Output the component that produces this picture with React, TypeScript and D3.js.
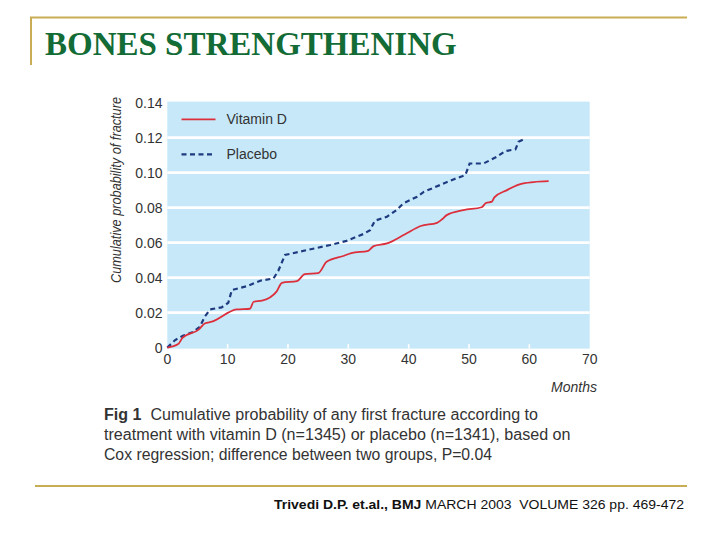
import React, { useEffect, useRef } from 'react';
import * as d3 from 'd3';

// cumulative fracture probability by month
const vitaminMonths = [0, 1.8, 2.5, 5.3, 6.2, 7.4, 11.5, 13.7, 14.3, 15.7, 18.1, 19, 21.5, 22.8, 25, 26.4, 29.3, 30.5, 33.3, 34.2, 36.4, 39.4, 42, 44.7, 45.6, 46.3, 49.1, 52.1, 52.8, 53.8, 54.2, 56.3, 57.4, 58.5, 60.7, 63.2];
const vitaminProb = [0, 0.002, 0.0055, 0.0106, 0.0138, 0.0148, 0.0218, 0.0222, 0.0262, 0.0268, 0.032, 0.037, 0.038, 0.042, 0.0425, 0.049, 0.0525, 0.054, 0.0553, 0.058, 0.0595, 0.0648, 0.0695, 0.0713, 0.0735, 0.0757, 0.0786, 0.0802, 0.0826, 0.0834, 0.0858, 0.09, 0.0919, 0.0934, 0.0946, 0.0951];

const placeboMonths = [0, 1.3, 2.5, 4.3, 5.4, 6.2, 7.1, 9, 10.1, 10.7, 13.2, 15.4, 17.6, 18.4, 19.5, 23.1, 27, 29.7, 32.5, 33.6, 34.4, 36.4, 38, 39.1, 41.4, 42.5, 45.2, 47.4, 49.4, 50.1, 52.4, 54.6, 56, 57.7, 58.2, 59.3];
const placeboProb = [0, 0.0043, 0.0066, 0.009, 0.0119, 0.0176, 0.0218, 0.023, 0.0256, 0.0329, 0.0351, 0.0382, 0.0395, 0.0439, 0.0529, 0.0557, 0.0586, 0.061, 0.0649, 0.0671, 0.0725, 0.0748, 0.0786, 0.0824, 0.0862, 0.089, 0.0929, 0.0961, 0.0986, 0.1052, 0.1052, 0.109, 0.1123, 0.1133, 0.1176, 0.1195];

const xTicks = [0, 10, 20, 30, 40, 50, 60, 70];
const yTicks = [0, 0.02, 0.04, 0.06, 0.08, 0.1, 0.12, 0.14];
const yTickLabels = ['0', '0.02', '0.04', '0.06', '0.08', '0.10', '0.12', '0.14'];

const captionLines = [
  'Cumulative probability of any first fracture according to',
  'treatment with vitamin D (n=1345) or placebo (n=1341), based on',
  'Cox regression; difference between two groups, P=0.04',
];

const RED = '#dc2f3b';
const NAVY = '#1f3b80';
const GOLD = '#c9ad55';
const SKY = '#c6e8f9';
const FONT = '"Liberation Sans", Arial, sans-serif';

const App = () => {
  const svgRef = useRef<SVGSVGElement>(null);

  useEffect(() => {
    if (!svgRef.current) return;
    const svg = d3.select(svgRef.current);
    svg.selectAll('*').remove();

    svg.append('rect').attr('width', 720).attr('height', 540).attr('fill', '#fff');

    // slide frame
    svg.append('line').attr('x1', 30).attr('x2', 687).attr('y1', 17.5).attr('y2', 17.5)
      .attr('stroke', GOLD).attr('stroke-width', 2);
    svg.append('line').attr('x1', 31).attr('x2', 31).attr('y1', 17).attr('y2', 65)
      .attr('stroke', GOLD).attr('stroke-width', 2);
    svg.append('line').attr('x1', 35).attr('x2', 687).attr('y1', 486).attr('y2', 486)
      .attr('stroke', GOLD).attr('stroke-width', 2);

    svg.append('text')
      .attr('x', 45).attr('y', 55)
      .attr('font-family', '"Liberation Serif", "Times New Roman", serif')
      .attr('font-weight', 'bold')
      .attr('font-size', 33)
      .attr('fill', '#136b36')
      .text('BONES STRENGTHENING');

    const x = d3.scaleLinear().domain([0, 70]).range([167.3, 589.7]);
    const y = d3.scaleLinear().domain([0, 0.14]).range([347.6, 102.6]);

    const g = svg.append('g');

    g.append('rect')
      .attr('x', x(0)).attr('y', y(0.14) - 1)
      .attr('width', x(70) - x(0)).attr('height', y(0) - y(0.14) + 2)
      .attr('fill', SKY);

    g.selectAll('.grid')
      .data(yTicks.filter(t => t > 0 && t < 0.14))
      .join('line')
      .attr('class', 'grid')
      .attr('x1', x(0)).attr('x2', x(70))
      .attr('y1', d => y(d)).attr('y2', d => y(d))
      .attr('stroke', '#fff').attr('stroke-width', 2.6);

    g.selectAll('.xtick')
      .data(xTicks.slice(1, -1))
      .join('line')
      .attr('class', 'xtick')
      .attr('x1', d => x(d)).attr('x2', d => x(d))
      .attr('y1', y(0) - 3.5).attr('y2', y(0) + 1)
      .attr('stroke', '#fff').attr('stroke-width', 1.6);

    g.selectAll('.ylab')
      .data(yTicks)
      .join('text')
      .attr('class', 'ylab')
      .attr('x', 162.5).attr('y', d => y(d))
      .attr('dy', '0.36em')
      .attr('text-anchor', 'end')
      .attr('font-family', FONT).attr('font-size', 14).attr('fill', '#333')
      .text((d, i) => yTickLabels[i]);

    g.selectAll('.xlab')
      .data(xTicks)
      .join('text')
      .attr('class', 'xlab')
      .attr('x', d => x(d)).attr('y', 358.5)
      .attr('dy', '0.36em')
      .attr('text-anchor', 'middle')
      .attr('font-family', FONT).attr('font-size', 14).attr('fill', '#333')
      .text(d => d);

    g.append('text')
      .attr('x', 597).attr('y', 387).attr('dy', '0.36em')
      .attr('text-anchor', 'end')
      .attr('font-family', FONT).attr('font-size', 14).attr('font-style', 'italic').attr('fill', '#333')
      .text('Months');

    g.append('text')
      .attr('transform', 'translate(116,190) rotate(-90)')
      .attr('dy', '0.36em')
      .attr('text-anchor', 'middle')
      .attr('font-family', FONT).attr('font-size', 14.5).attr('font-style', 'italic').attr('fill', '#333')
      .attr('textLength', 186).attr('lengthAdjust', 'spacingAndGlyphs')
      .text('Cumulative probability of fracture');

    const vitamin = vitaminMonths.map((m, i) => [m, vitaminProb[i]] as [number, number]);
    const placebo = placeboMonths.map((m, i) => [m, placeboProb[i]] as [number, number]);

    const line = d3.line<[number, number]>()
      .x(d => x(d[0]))
      .y(d => y(d[1]));

    g.append('path')
      .datum(placebo)
      .attr('d', line.curve(d3.curveLinear))
      .attr('fill', 'none')
      .attr('stroke', NAVY).attr('stroke-width', 2.2)
      .attr('stroke-dasharray', '5,3.5');

    g.append('path')
      .datum(vitamin)
      .attr('d', line.curve(d3.curveMonotoneX))
      .attr('fill', 'none')
      .attr('stroke', RED).attr('stroke-width', 1.8);

    // legend
    const legend = [
      { label: 'Vitamin D', color: RED, dash: null, y: 119.3 },
      { label: 'Placebo', color: NAVY, dash: '5,3.5', y: 154.3 },
    ];
    legend.forEach(d => {
      g.append('line')
        .attr('x1', 181.5).attr('x2', 215.5).attr('y1', d.y).attr('y2', d.y)
        .attr('stroke', d.color).attr('stroke-width', d.dash ? 2.2 : 1.8)
        .attr('stroke-dasharray', d.dash);
      g.append('text')
        .attr('x', 226.5).attr('y', d.y).attr('dy', '0.36em')
        .attr('font-family', FONT).attr('font-size', 14).attr('fill', '#333')
        .text(d.label);
    });

    // figure caption
    const captionEnds = [538, 570.5, 492];
    captionLines.forEach((t, i) => {
      const txt = svg.append('text')
        .attr('x', 104).attr('y', 420 + i * 20.2)
        .attr('font-family', FONT).attr('font-size', 16).attr('fill', '#333')
        .attr('textLength', captionEnds[i] - 104).attr('lengthAdjust', 'spacingAndGlyphs');
      if (i === 0) {
        txt.append('tspan').attr('font-weight', 'bold').text('Fig 1');
        txt.append('tspan').text('\u00a0 ' + t);
      } else {
        txt.text(t);
      }
    });

    // citation
    const cite = svg.append('text')
      .attr('x', 274).attr('y', 509)
      .attr('font-family', FONT).attr('font-size', 13).attr('fill', '#111')
      .attr('textLength', 410).attr('lengthAdjust', 'spacingAndGlyphs');
    cite.append('tspan').attr('font-weight', 'bold').text('Trivedi D.P. et.al., BMJ');
    cite.append('tspan').text(' MARCH 2003\u00a0 VOLUME 326 pp. 469-472');
  }, []);

  return (
    <svg
      ref={svgRef}
      width={720}
      height={540}
      viewBox="0 0 720 540"
      style={{ position: 'absolute', left: 0, top: 0 }}
    />
  );
};

export default App;
